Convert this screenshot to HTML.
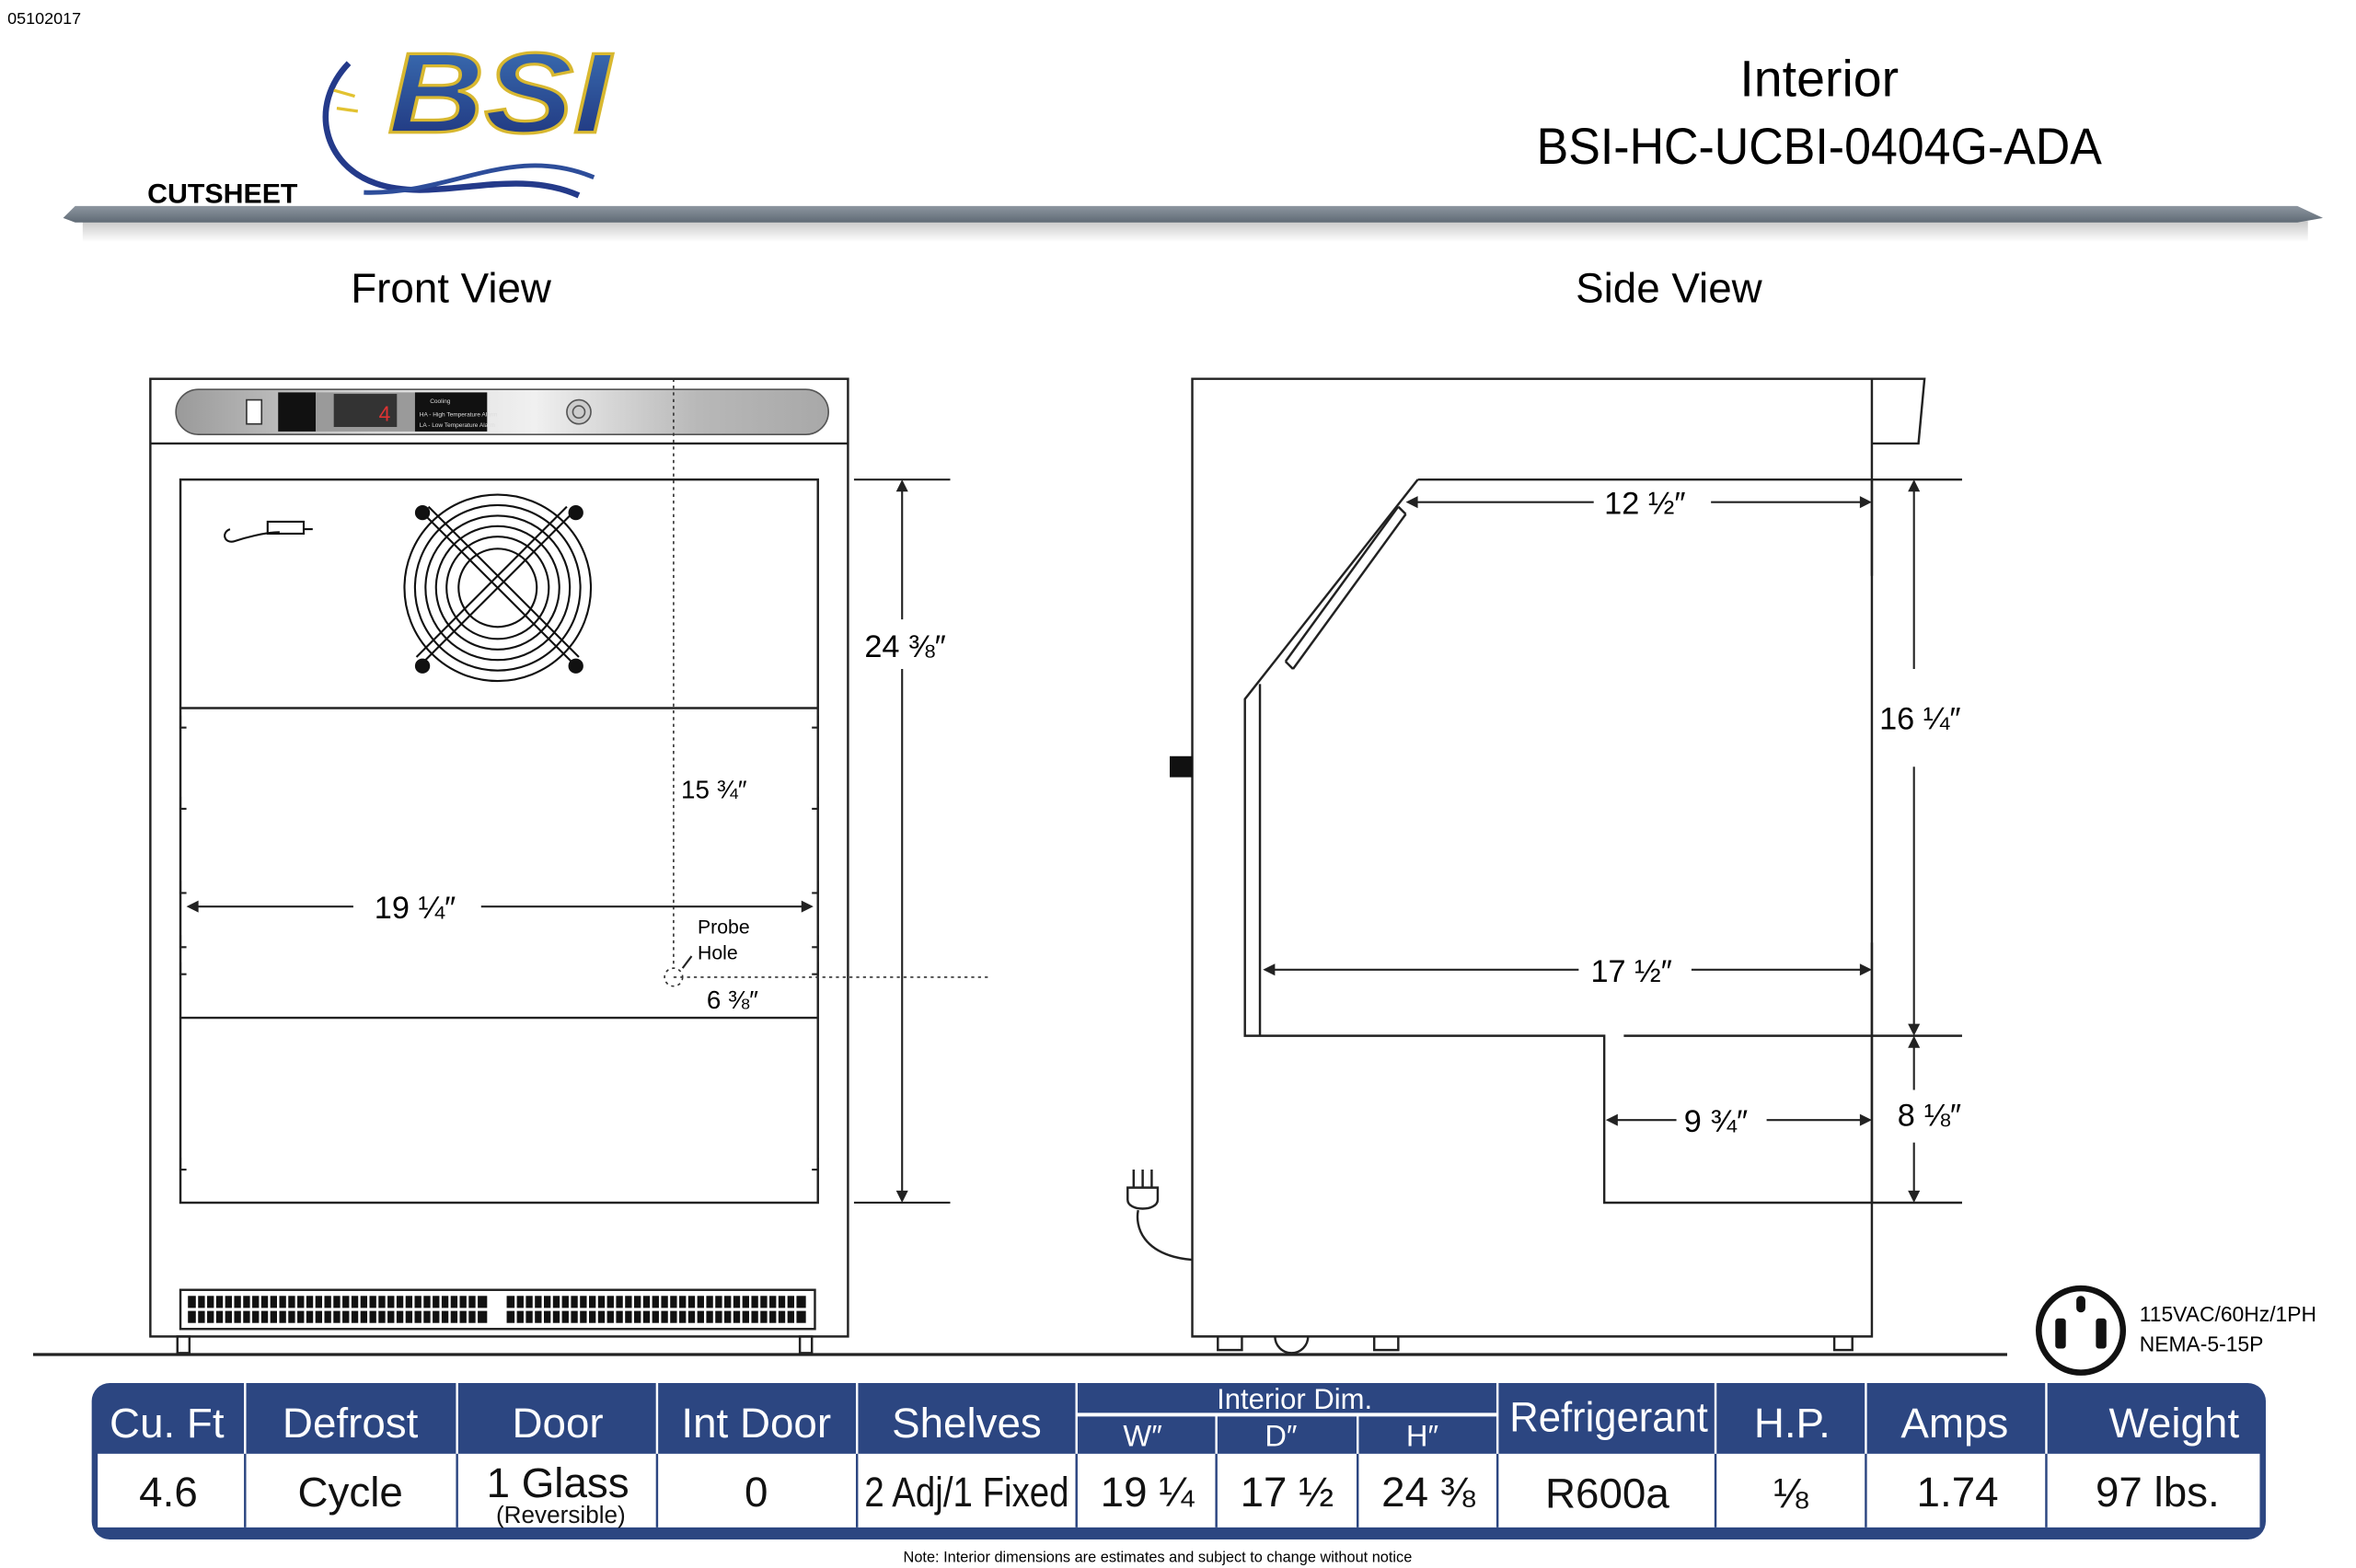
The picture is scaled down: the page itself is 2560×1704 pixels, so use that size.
<!DOCTYPE html>
<html><head><meta charset="utf-8"><style>
html,body{margin:0;padding:0;background:#fff;}
svg{display:block;}
text{font-family:"Liberation Sans",sans-serif;}
</style></head><body>
<svg width="2560" height="1704" viewBox="0 0 1567 1043" preserveAspectRatio="none" xmlns="http://www.w3.org/2000/svg">
<defs>
<linearGradient id="bar" x1="0" y1="0" x2="0" y2="1"><stop offset="0" stop-color="#8d96a0"/><stop offset="1" stop-color="#5f6a75"/></linearGradient>
<linearGradient id="sh" x1="0" y1="0" x2="0" y2="1"><stop offset="0" stop-color="#c8c8c8"/><stop offset="1" stop-color="#fff"/></linearGradient>
<linearGradient id="pan" x1="0" y1="0" x2="1" y2="0"><stop offset="0" stop-color="#9a9a9a"/><stop offset="0.3" stop-color="#d8d8d8"/><stop offset="0.55" stop-color="#f0f0f0"/><stop offset="0.8" stop-color="#b8b8b8"/><stop offset="1" stop-color="#a8a8a8"/></linearGradient>
<linearGradient id="bsi" x1="0" y1="0" x2="0" y2="1"><stop offset="0" stop-color="#3e74b8"/><stop offset="1" stop-color="#1c2f78"/></linearGradient>
</defs>
<text x="5" y="16" font-size="11">05102017</text>
<path d="M232 42 C205 70 215 110 250 122 C290 136 340 110 385 130" fill="none" stroke="#243a8a" stroke-width="4"/>
<path d="M242 128 C300 130 340 95 395 118" fill="none" stroke="#2d4d9a" stroke-width="3"/>
<path d="M222 60 l14 4 M224 72 l14 2" stroke="#e2c230" stroke-width="2"/>
<text x="258" y="88" font-size="76" font-weight="bold" font-style="italic" fill="url(#bsi)" stroke="#d8b830" stroke-width="2" textLength="148" lengthAdjust="spacingAndGlyphs">BSI</text>
<text x="98" y="135" font-size="18" font-weight="bold" textLength="100" lengthAdjust="spacingAndGlyphs">CUTSHEET</text>
<rect x="55" y="147" width="1480" height="14" fill="url(#sh)"/>
<polygon points="50,137 1528,137 1545,145 1528,148 50,148 42,145" fill="url(#bar)"/>
<text x="1210" y="64" font-size="34" text-anchor="middle">Interior</text>
<text x="1210" y="109" font-size="34" text-anchor="middle" textLength="376" lengthAdjust="spacingAndGlyphs">BSI-HC-UCBI-0404G-ADA</text>
<text x="300" y="201" font-size="28" text-anchor="middle">Front View</text>
<text x="1110" y="201" font-size="28" text-anchor="middle">Side View</text>

<g fill="none" stroke="#222" stroke-width="1.5">
<rect x="100" y="252" width="464" height="637"/>
<line x1="100" y1="295" x2="564" y2="295"/>
<rect x="120" y="319" width="424" height="481"/>
<line x1="120" y1="471" x2="544" y2="471"/>
<line x1="120" y1="677" x2="544" y2="677"/>
<rect x="120" y="858" width="422" height="26"/>
<line x1="22" y1="901" x2="1335" y2="901" stroke-width="2"/>
<rect x="118" y="889" width="8" height="11"/><rect x="532" y="889" width="8" height="11"/>
</g>
<rect x="117" y="259" width="434" height="30" rx="15" fill="url(#pan)" stroke="#555"/>
<rect x="164" y="266" width="10" height="16" fill="#fff" stroke="#333"/>
<rect x="185" y="261" width="25" height="26" fill="#111"/>
<rect x="210" y="261" width="66" height="26" fill="#9a9a9a"/>
<rect x="222" y="262" width="42" height="22" fill="#333"/>
<text x="252" y="280" font-size="14" fill="#d33">4</text>
<rect x="276" y="261" width="48" height="26" fill="#111"/>
<text x="286" y="268" font-size="4" fill="#ddd">Cooling</text>
<text x="279" y="277" font-size="4" fill="#ddd">HA - High Temperature Alarm</text>
<text x="279" y="284" font-size="4" fill="#ddd">LA - Low Temperature Alarm</text>
<circle cx="385" cy="274" r="8" fill="#ccc" stroke="#555"/><circle cx="385" cy="274" r="4" fill="none" stroke="#555"/>
<g fill="none" stroke="#111" stroke-width="1.3">
<circle cx="331" cy="391" r="62"/><circle cx="331" cy="391" r="55"/><circle cx="331" cy="391" r="48"/><circle cx="331" cy="391" r="41"/><circle cx="331" cy="391" r="34"/><circle cx="331" cy="391" r="26"/>
<line x1="281" y1="341" x2="381" y2="441"/><line x1="285" y1="337" x2="385" y2="437"/>
<line x1="381" y1="341" x2="281" y2="441"/><line x1="377" y1="337" x2="277" y2="437"/>
<path d="M153 352 c-6 2 -4 10 3 8 c6 -2 20 -6 30 -6 M178 347 h24 v8 h-24z M202 352 h6"/>
</g>
<g fill="#111"><circle cx="281" cy="341" r="5"/><circle cx="383" cy="341" r="5"/><circle cx="281" cy="443" r="5"/><circle cx="383" cy="443" r="5"/></g>
<g fill="#111">
<rect x="125" y="862" width="199" height="8"/><rect x="125" y="872" width="199" height="8"/>
<rect x="337" y="862" width="199" height="8"/><rect x="337" y="872" width="199" height="8"/>
</g>
<g stroke="#fff" stroke-width="1.5">
<path d="M131 860v22M137 860v22M143 860v22M149 860v22M155 860v22M161 860v22M167 860v22M173 860v22M179 860v22M185 860v22M191 860v22M197 860v22M203 860v22M209 860v22M215 860v22M221 860v22M227 860v22M233 860v22M239 860v22M245 860v22M251 860v22M257 860v22M263 860v22M269 860v22M275 860v22M281 860v22M287 860v22M293 860v22M299 860v22M305 860v22M311 860v22M317 860v22"/>
<path d="M343 860v22M349 860v22M355 860v22M361 860v22M367 860v22M373 860v22M379 860v22M385 860v22M391 860v22M397 860v22M403 860v22M409 860v22M415 860v22M421 860v22M427 860v22M433 860v22M439 860v22M445 860v22M451 860v22M457 860v22M463 860v22M469 860v22M475 860v22M481 860v22M487 860v22M493 860v22M499 860v22M505 860v22M511 860v22M517 860v22M523 860v22M529 860v22"/>
</g>
<g stroke="#333" stroke-width="1" stroke-dasharray="2,2.5" fill="none">
<line x1="448" y1="252" x2="448" y2="644"/><line x1="448" y1="650" x2="657" y2="650"/><circle cx="448" cy="650" r="6"/>
</g>
<g fill="none" stroke="#222" stroke-width="1.3">
<path d="M120 476v8h4M120 530v8h4M120 586v8h4M120 622v8h4M120 640v8h4M120 770v8h4M544 476v8h-4M544 530v8h-4M544 586v8h-4M544 622v8h-4M544 640v8h-4M544 770v8h-4"/>
</g>
<g stroke="#222" stroke-width="1.3" fill="#222">
<line x1="568" y1="319" x2="632" y2="319"/><line x1="568" y1="800" x2="632" y2="800"/>
<line x1="600" y1="322" x2="600" y2="412"/><line x1="600" y1="445" x2="600" y2="797"/>
<path d="M600 319l-4 8h8z M600 800l-4 -8h8z" stroke="none"/>
<line x1="128" y1="603" x2="235" y2="603"/><line x1="320" y1="603" x2="537" y2="603"/>
<path d="M124 603l8 -4v8z M541 603l-8 -4v8z" stroke="none"/>
<line x1="460" y1="636" x2="454" y2="644"/>
</g>
<text x="575" y="437" font-size="21">24 ⅜″</text>
<text x="249" y="611" font-size="21">19 ¼″</text>
<text x="453" y="531" font-size="17">15 ¾″</text>
<text x="464" y="621" font-size="13">Probe</text>
<text x="464" y="638" font-size="13">Hole</text>
<text x="470" y="671" font-size="17">6 ⅜″</text>

<g fill="none" stroke="#222" stroke-width="1.5">
<path d="M793 252H1245V889H793Z"/>
<path d="M1245 252H1280L1276 295H1245"/>
<path d="M943 319H1245 M943 319L828 465V689H1067V800H1245 M1080 689H1305"/>
<path d="M838 455V689"/>
<path d="M930 337L855 440 M935 342L860 445 M930 337l5 5 M855 440l5 5"/>
<path d="M810 889v9h16v-9 M914 889v9h16v-9 M1220 889v9h12v-9 M848 889a11 11 0 0 0 22 0"/>
<path d="M1245 319V383 M1245 627V800"/>
<path d="M1245 800H1305 M1245 319H1305"/>
<path d="M757 805c-2 10 2 30 36 33"/>
<path d="M750 790h20v8c0 8 -20 8 -20 0z M754 778v12 M760 778v12 M766 778v12"/>
</g>
<rect x="778" y="503" width="15" height="14" fill="#111"/>
<g stroke="#222" stroke-width="1.3" fill="#222">
<line x1="940" y1="334" x2="1060" y2="334"/><line x1="1138" y1="334" x2="1242" y2="334"/>
<path d="M935 334l8 -4v8z M1245 334l-8 -4v8z" stroke="none"/>
<line x1="1273" y1="323" x2="1273" y2="445"/><line x1="1273" y1="510" x2="1273" y2="685"/>
<path d="M1273 319l-4 8h8z M1273 689l-4 -8h8z M1273 689l-4 8h8z M1273 800l-4 -8h8z" stroke="none"/>
<line x1="1273" y1="693" x2="1273" y2="725"/><line x1="1273" y1="760" x2="1273" y2="796"/>
<line x1="845" y1="645" x2="1050" y2="645"/><line x1="1125" y1="645" x2="1240" y2="645"/>
<path d="M840 645l8 -4v8z M1245 645l-8 -4v8z" stroke="none"/>
<line x1="1073" y1="745" x2="1115" y2="745"/><line x1="1175" y1="745" x2="1240" y2="745"/>
<path d="M1068 745l8 -4v8z M1245 745l-8 -4v8z" stroke="none"/>
</g>
<text x="1067" y="342" font-size="21">12 ½″</text>
<text x="1250" y="485" font-size="21">16 ¼″</text>
<text x="1058" y="653" font-size="21">17 ½″</text>
<text x="1120" y="753" font-size="21">9 ¾″</text>
<text x="1262" y="749" font-size="21">8 ⅛″</text>
<circle cx="1384" cy="885" r="28" fill="none" stroke="#111" stroke-width="4"/>
<rect x="1381" y="862" width="6" height="11" rx="3" fill="#111"/>
<rect x="1367" y="877" width="7" height="20" rx="2" fill="#111"/>
<rect x="1394" y="877" width="7" height="20" rx="2" fill="#111"/>
<text x="1423" y="879" font-size="14">115VAC/60Hz/1PH</text>
<text x="1423" y="899" font-size="14">NEMA-5-15P</text>

<rect x="61" y="920" width="1446" height="104" rx="12" fill="#2c4681"/>
<rect x="65" y="967" width="1438" height="49" fill="#fff"/>
<g stroke="#fff" stroke-width="1.5">
<line x1="163" y1="920" x2="163" y2="1016"/><line x1="304" y1="920" x2="304" y2="1016"/>
<line x1="437" y1="920" x2="437" y2="1016"/><line x1="570" y1="920" x2="570" y2="1016"/>
<line x1="716" y1="920" x2="716" y2="1016"/><line x1="809" y1="941" x2="809" y2="1016"/>
<line x1="903" y1="941" x2="903" y2="1016"/><line x1="996" y1="920" x2="996" y2="1016"/>
<line x1="1141" y1="920" x2="1141" y2="1016"/><line x1="1241" y1="920" x2="1241" y2="1016"/>
<line x1="1361" y1="920" x2="1361" y2="1016"/>
<line x1="716" y1="941" x2="996" y2="941" stroke-width="2.5"/>
</g>
<g stroke="#2c4681" stroke-width="1.5">
<line x1="163" y1="967" x2="163" y2="1016"/><line x1="304" y1="967" x2="304" y2="1016"/>
<line x1="437" y1="967" x2="437" y2="1016"/><line x1="570" y1="967" x2="570" y2="1016"/>
<line x1="716" y1="967" x2="716" y2="1016"/><line x1="809" y1="967" x2="809" y2="1016"/>
<line x1="903" y1="967" x2="903" y2="1016"/><line x1="996" y1="967" x2="996" y2="1016"/>
<line x1="1141" y1="967" x2="1141" y2="1016"/><line x1="1241" y1="967" x2="1241" y2="1016"/>
<line x1="1361" y1="967" x2="1361" y2="1016"/>
</g>
<g fill="#fff" font-size="28" text-anchor="middle">
<text x="111" y="956">Cu. Ft</text><text x="233" y="956">Defrost</text><text x="371" y="956">Door</text>
<text x="503" y="956">Int Door</text><text x="643" y="956">Shelves</text>
<text x="861" y="937" font-size="19">Interior Dim.</text>
<text x="760" y="962" font-size="20">W″</text><text x="852" y="962" font-size="20">D″</text><text x="946" y="962" font-size="20">H″</text>
<text x="1070" y="952" textLength="132" lengthAdjust="spacingAndGlyphs">Refrigerant</text>
<text x="1192" y="956">H.P.</text><text x="1300" y="956">Amps</text><text x="1446" y="956">Weight</text>
</g>
<g fill="#111" font-size="28" text-anchor="middle">
<text x="112" y="1002">4.6</text><text x="233" y="1002">Cycle</text>
<text x="371" y="996">1 Glass</text><text x="373" y="1013" font-size="16">(Reversible)</text>
<text x="503" y="1002">0</text>
<text x="643" y="1002" textLength="136" lengthAdjust="spacingAndGlyphs">2 Adj/1 Fixed</text>
<text x="763" y="1002">19 ¼</text><text x="856" y="1002">17 ½</text><text x="950" y="1002">24 ⅜</text>
<text x="1069" y="1003">R600a</text><text x="1191" y="1003">⅛</text><text x="1302" y="1002">1.74</text><text x="1435" y="1002">97 lbs.</text>
</g>
<text x="770" y="1039" font-size="10" text-anchor="middle">Note: Interior dimensions are estimates and subject to change without notice</text>
</svg>
</body></html>
